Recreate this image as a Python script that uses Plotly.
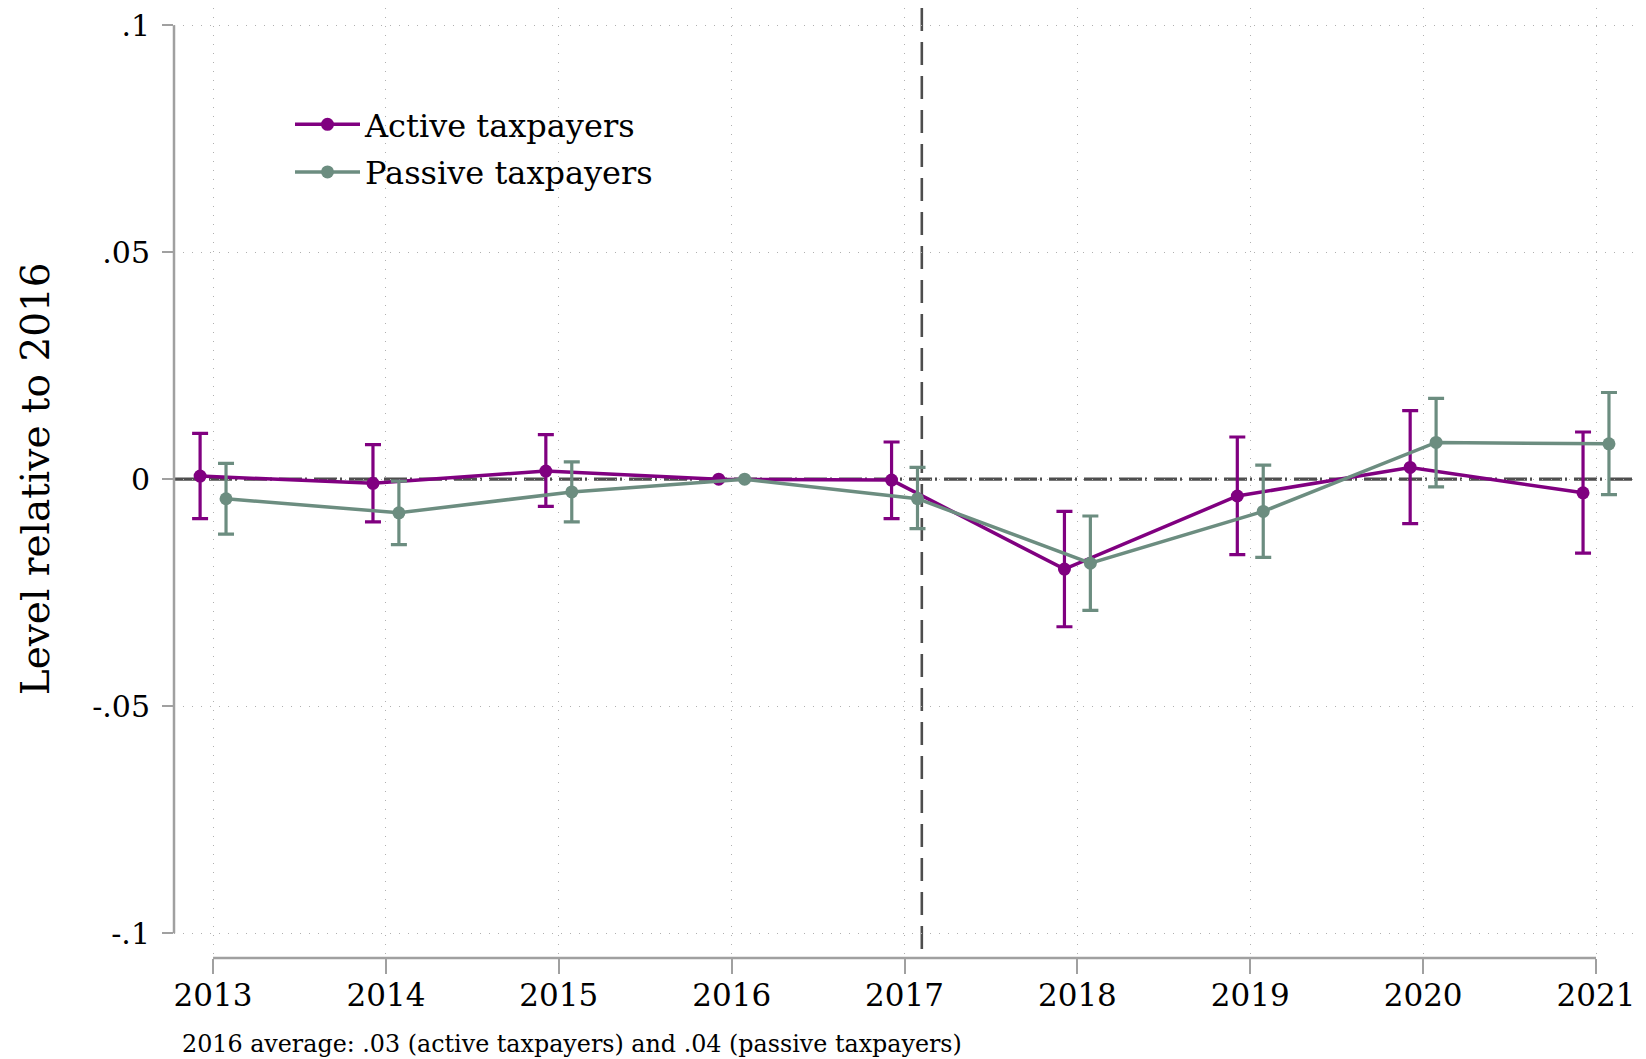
import numpy as np
import plotly.graph_objects as go

# ---------------- data ----------------
years = [2013, 2014, 2015, 2016, 2017, 2018, 2019, 2020, 2021]
year_labels = ["2013", "2014", "2015", "2016", "2017", "2018", "2019", "2020", "2021"]

active_est = [0.0007, -0.0009, 0.0018, 0.0, -0.0002, -0.0198, -0.0037, 0.0026, -0.0030]
active_hi = [0.0101, 0.0076, 0.0098, None, 0.0082, -0.0071, 0.0093, 0.0151, 0.0104]
active_lo = [-0.0087, -0.0094, -0.0060, None, -0.0087, -0.0325, -0.0166, -0.0098, -0.0163]

passive_est = [-0.0043, -0.0074, -0.0028, 0.0, -0.0043, -0.0185, -0.0071, 0.0081, 0.0078]
passive_hi = [0.0035, -0.0004, 0.0038, None, 0.0026, -0.0081, 0.0031, 0.0178, 0.0191]
passive_lo = [-0.0121, -0.0144, -0.0094, None, -0.0109, -0.0289, -0.0172, -0.0017, -0.0034]

ytick_vals = [0.1, 0.05, 0.0, -0.05, -0.1]
ytick_text = [".1", ".05", "0", "-.05", "-.1"]

reform_x = 2017.1
note_text = "2016 average: .03 (active taxpayers) and .04 (passive taxpayers)"

# ---------------- styling ----------------
# the page body adds an 8px margin at top/left, so the figure is 8px smaller than the window
W, H = 1638, 1051
ML, MR, MT, MB = 166, 13, 0, 101
PW, PH = W - ML - MR, H - MT - MB
FONT = "DejaVu Serif"
PURPLE = "#800080"
SAGE = "#6c8d80"
AXIS_GREY = "#a0a0a0"
GRID_GREY = "#b0b0b0"
REF_GREY = "#4d4d4d"
OFFSET = 0.075


def to_arr(v):
    return np.array([np.nan if x is None else x for x in v], dtype=float)


def err(est, hi, lo):
    e, h, l = np.array(est, float), to_arr(hi), to_arr(lo)
    return h - e, e - l


fig = go.Figure()

for name, grp, est, hi, lo, col, off in [
    ("Active taxpayers", "a", active_est, active_hi, active_lo, PURPLE, -OFFSET),
    ("Passive taxpayers", "p", passive_est, passive_hi, passive_lo, SAGE, OFFSET),
]:
    plus, minus = err(est, hi, lo)
    fig.add_trace(go.Scatter(
        x=np.array(years, float) + off,
        y=est,
        name=name,
        legendgroup=grp,
        mode="lines+markers",
        line=dict(color=col, width=3.5),
        marker=dict(color=col, size=13),
        error_y=dict(type="data", symmetric=False, array=plus, arrayminus=minus,
                     color=col, thickness=3.2, width=8),
    ))

# reference lines
fig.add_shape(type="line", xref="paper", yref="y", x0=0, x1=1, y0=0, y1=0,
              line=dict(color=REF_GREY, width=3.2, dash="23px,3px,2px,7px"), layer="between")
fig.add_shape(type="line", xref="x", yref="paper", x0=reform_x, x1=reform_x, y0=1, y1=0,
              line=dict(color=REF_GREY, width=2.6, dash="23px,11px"), layer="between")

# axis spines (Stata style, spanning only the tick range)
fig.add_shape(type="line", xref="paper", yref="y", x0=0, x1=0,
              y0=ytick_vals[-1], y1=ytick_vals[0],
              line=dict(color=AXIS_GREY, width=2.5), layer="above")
fig.add_shape(type="line", xref="x", yref="paper", x0=years[0], x1=years[-1],
              y0=0, y1=0, line=dict(color=AXIS_GREY, width=2.5), layer="above")

fig.update_xaxes(
    range=[2012.774, 2021.214],
    tickvals=years, ticktext=year_labels,
    ticks="outside", ticklen=15, tickwidth=2, tickcolor=AXIS_GREY,
    tickfont=dict(family=FONT, size=31, color="black"),
    ticklabelstandoff=-5, ticklabeloverflow="allow",
    showgrid=True, gridcolor=GRID_GREY, gridwidth=1, griddash="1px,8px",
    showline=False, zeroline=False,
)
fig.update_yaxes(
    range=[-0.10546, 0.10379],
    tickvals=ytick_vals, ticktext=ytick_text,
    ticks="outside", ticklen=11, tickwidth=2, tickcolor=AXIS_GREY,
    tickfont=dict(family=FONT, size=30, color="black"),
    ticklabelstandoff=6, ticklabeloverflow="allow",
    showgrid=True, gridcolor=GRID_GREY, gridwidth=1, griddash="1px,8px",
    showline=False, zeroline=False,
)

# y-axis title and note
fig.add_annotation(text="Level relative to 2016", xref="paper", yref="y", x=0, y=0,
                   xshift=-139, textangle=-90, showarrow=False,
                   xanchor="center", yanchor="middle",
                   font=dict(family=FONT, size=39, color="black"))
fig.add_annotation(text=note_text, xref="paper", yref="paper", x=0, y=0,
                   xshift=6, yshift=-86, showarrow=False,
                   xanchor="left", yanchor="middle",
                   font=dict(family=FONT, size=23.8, color="black"))

fig.update_layout(
    width=W, height=H,
    margin=dict(l=ML, r=MR, t=MT, b=MB, pad=0),
    paper_bgcolor="white", plot_bgcolor="white",
    font=dict(family=FONT, color="black"),
    showlegend=True,
    legend=dict(x=(282 - ML) / PW, y=(PH - 89) / PH,
                xanchor="left", yanchor="top",
                traceorder="grouped", tracegroupgap=3,
                itemwidth=65,
                bgcolor="rgba(0,0,0,0)",
                font=dict(family=FONT, size=32, color="black")),
)

fig.write_html("out.html")
